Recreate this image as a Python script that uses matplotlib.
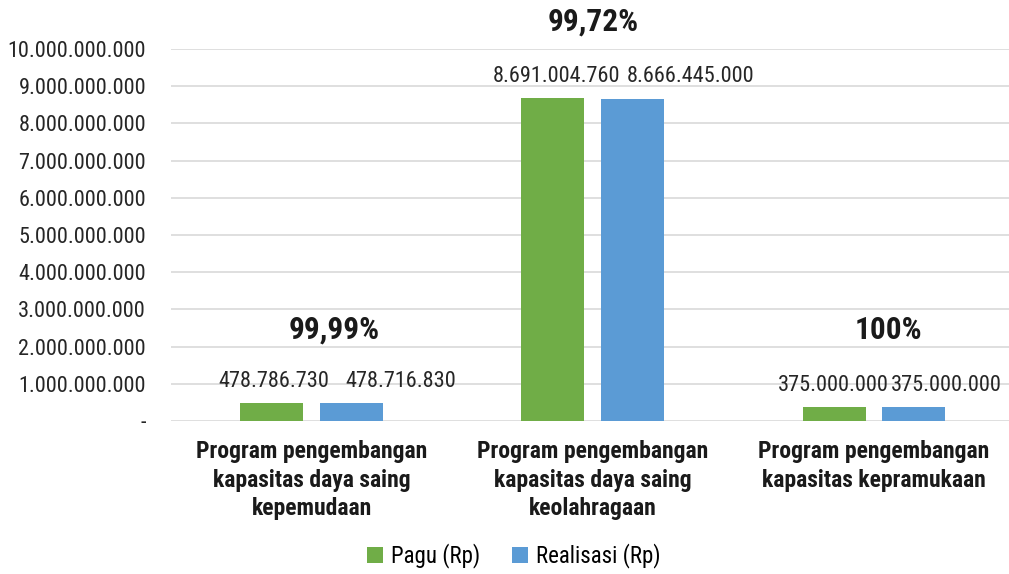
import numpy as np
import matplotlib
matplotlib.use('Agg')
from matplotlib import pyplot as plt
from matplotlib import font_manager as fm
from matplotlib.ticker import FuncFormatter

# font mirip Arial Narrow (harus punya versi bold)
tebal = {f.name for f in fm.fontManager.ttflist if f.weight in (700, 'bold')}
pilihan = ['Liberation Sans Narrow', 'Arial Narrow', 'Roboto Condensed', 'Archivo Narrow',
           'PT Sans Narrow', 'Pragati Narrow', 'Encode Sans Condensed', 'Liberation Sans']
base = next(n for n in pilihan if n in tebal)
plt.rcParams['font.family'] = [base, 'DejaVu Sans']

categories = ['Program pengembangan\nkapasitas daya saing\nkepemudaan',
              'Program pengembangan\nkapasitas daya saing\nkeolahragaan',
              'Program pengembangan\nkapasitas kepramukaan']
pagu = [478786730, 8691004760, 375000000]
realisasi = [478716830, 8666445000, 375000000]
persen = ['99,99%', '99,72%', '100%']
persen_pos = [(0.08, 2.45e9), (1.0, 10.73e9), (2.05, 2.45e9)]

# geser label nilai (px) seperti di excel supaya tidak tabrakan
geser_pagu = [2.5, 4, -0.5]
geser_real = [49.5, 57.5, 32.5]


def titik(v):
    return f'{int(v):,}'.replace(',', '.')


fig = plt.figure(figsize=(10.09, 5.74), dpi=100)
ax = fig.add_axes([171 / 1009, 153 / 574, 838 / 1009, 372 / 574])

x = np.arange(len(categories))
w = 0.224
off = 0.142
b1 = ax.bar(x - off, pagu, w, color='#70AD47', label='Pagu (Rp)', zorder=3)
b2 = ax.bar(x + off, realisasi, w, color='#5B9BD5', label='Realisasi (Rp)', zorder=3)

for bars, geser in ((b1, geser_pagu), (b2, geser_real)):
    for r, g in zip(bars, geser):
        ax.annotate(titik(r.get_height()), (r.get_x() + r.get_width() / 2, r.get_height()),
                    xytext=(g * 0.72, 8), textcoords='offset points', ha='center', va='bottom',
                    fontsize=16, color='#262626')

for (px, py), t in zip(persen_pos, persen):
    ax.text(px, py, t, ha='center', va='center', fontsize=22.5, fontweight='bold',
            color='#1a1a1a', clip_on=False)

ax.set_xlim(-0.5, 2.48)
ax.set_ylim(0, 1e10)
ax.set_yticks(np.arange(0, 1.01e10, 1e9))
ax.yaxis.set_major_formatter(FuncFormatter(lambda v, p: '-' if v == 0 else titik(v)))
ax.tick_params(axis='y', length=0, pad=18, labelsize=16, labelcolor='#262626')
ax.set_xticks(x)
ax.set_xticklabels(categories, fontsize=17, fontweight='bold', color='#1a1a1a',
                   linespacing=1.3)
ax.tick_params(axis='x', length=0, pad=14)
ax.grid(axis='y', color='#d9d9d9', lw=1.2, zorder=0)
for s in ax.spines.values():
    s.set_visible(False)

fig.legend(loc='center', bbox_to_anchor=(514 / 1009, 1 - 556 / 574), ncol=2, frameon=False,
           fontsize=16.5, handlelength=0.7, handleheight=0.7, handletextpad=0.35, columnspacing=1.4)

plt.savefig('out.png')
